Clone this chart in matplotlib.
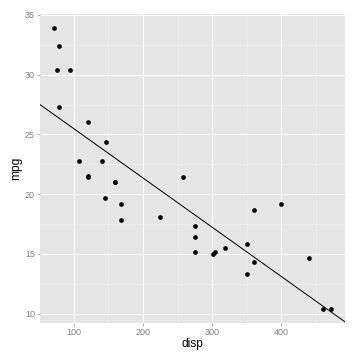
import matplotlib
matplotlib.use("Agg")
import matplotlib.pyplot as plt
import numpy as np

plt.rcParams['font.family'] = ['Liberation Sans', 'DejaVu Sans']

mpg = [21.0, 21.0, 22.8, 21.4, 18.7, 18.1, 14.3, 24.4, 22.8, 19.2, 17.8, 16.4, 17.3, 15.2, 10.4, 10.4,
       14.7, 32.4, 30.4, 33.9, 21.5, 15.5, 15.2, 13.3, 19.2, 27.3, 26.0, 30.4, 15.8, 19.7, 15.0, 21.4]
disp = [160, 160, 108, 258, 360, 225, 360, 146.7, 140.8, 167.6, 167.6, 275.8, 275.8, 275.8, 472, 460,
        440, 78.7, 75.7, 71.1, 120.1, 318, 304, 350, 400, 79, 120.3, 95.1, 351, 145, 301, 121]
x_ticks = [100, 200, 300, 400]
y_ticks = [10, 15, 20, 25, 30, 35]

x = np.array(disp, dtype=float)
y = np.array(mpg, dtype=float)
slope, intercept = np.polyfit(x, y, 1)

fig = plt.figure(figsize=(5, 5), dpi=72)
ax = fig.add_axes([40/360, 1 - 323/360, (345-40)/360, (323-14)/360])
ax.set_facecolor("#E5E5E5")
for s in ax.spines.values():
    s.set_visible(False)

xr = x.max() - x.min()
yr = y.max() - y.min()
ax.set_xlim(x.min() - 0.05*xr, x.max() + 0.05*xr)
ax.set_ylim(y.min() - 0.05*yr, y.max() + 0.05*yr)

ax.set_xticks(x_ticks)
ax.set_yticks(y_ticks)
ax.set_xticks([150, 250, 350, 450], minor=True)
ax.set_yticks([12.5, 17.5, 22.5, 27.5, 32.5], minor=True)
ax.grid(which="major", color="white", linewidth=1.0)
ax.grid(which="minor", color="#F2F2F2", linewidth=0.6)
ax.set_axisbelow(True)
ax.tick_params(which="major", length=3, width=0.6, color="#7F7F7F", labelcolor="#7F7F7F", labelsize=9, pad=2)
ax.tick_params(which="minor", length=0)

ax.scatter(x, y, s=22, color="black", zorder=3, linewidths=0)
ax.axline((0, intercept), slope=slope, color="black", linewidth=1.0, zorder=2)

ax.set_xlabel("disp", fontsize=12, labelpad=1)
ax.set_ylabel("mpg", fontsize=12, labelpad=3)

fig.savefig("out.png", dpi=72)
